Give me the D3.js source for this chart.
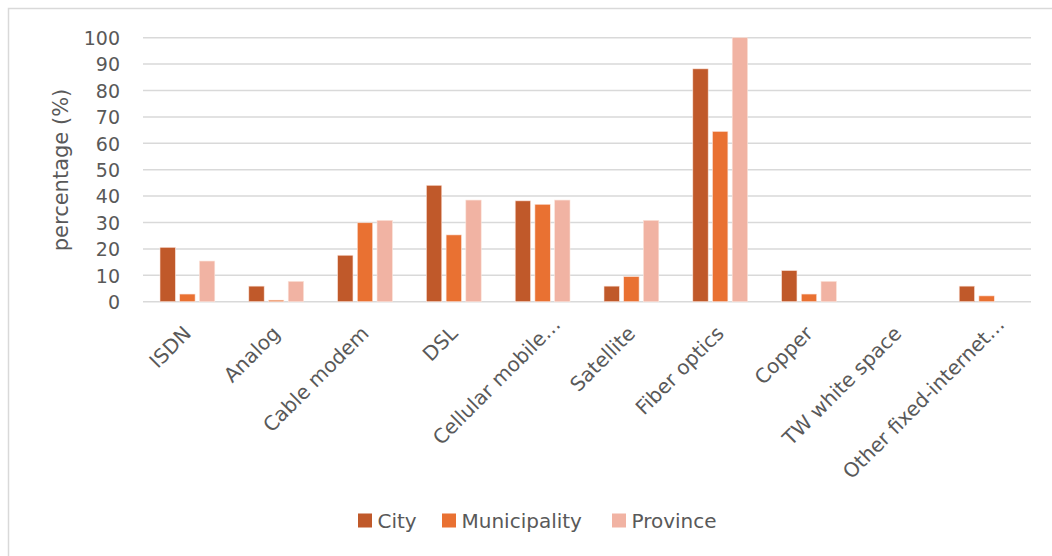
<!DOCTYPE html>
<html><head><meta charset="utf-8">
<script src="https://cdn.jsdelivr.net/npm/d3@7"></script>
<style>body{margin:0;background:#fff;} svg{display:block;}</style>
</head><body>
<svg id="c" width="1052" height="556"></svg>
<script>
const categories = ["ISDN","Analog","Cable modem","DSL","Cellular mobile…","Satellite","Fiber optics","Copper","TW white space","Other fixed-internet…"];
const seriesNames = ["City","Municipality","Province"];
const cityValues = [20.6, 5.9, 17.6, 44.1, 38.2, 5.9, 88.2, 11.8, 0, 5.9];
const municipalityValues = [2.9, 0.6, 29.9, 25.3, 36.9, 9.5, 64.5, 2.9, 0, 2.2];
const provinceValues = [15.4, 7.7, 30.8, 38.5, 38.5, 30.8, 100, 7.7, 0, 0];
const yTicks = [0,10,20,30,40,50,60,70,80,90,100];
const colors = ["#C0592A","#E97132","#F1B3A3"];

(function(){
const series = [cityValues, municipalityValues, provinceValues];
const svg = d3.select("#c");
const font = "'DejaVu Sans', sans-serif";
const pLeft = 143, pRight = 1031, pTop = 37.7, pBottom = 301.7;

svg.append("rect").attr("x",8.5).attr("y",8.5).attr("width",1100).attr("height",600)
  .attr("fill","none").attr("stroke","#d9d9d9").attr("stroke-width",1.5);

const x = d3.scaleBand().domain(categories).range([pLeft,pRight]).paddingInner(0).paddingOuter(0);
const x1 = d3.scaleBand().domain(seriesNames).range([17, x.bandwidth()-17]).paddingInner(0.22);
const y = d3.scaleLinear().domain([0,100]).range([pBottom, pTop]);

svg.append("g").selectAll("line").data(yTicks).join("line")
  .attr("x1",pLeft).attr("x2",pRight).attr("y1",d=>y(d)).attr("y2",d=>y(d))
  .attr("stroke","#d9d9d9").attr("stroke-width",1.5);

const yAxis = d3.axisLeft(y).tickValues(yTicks).tickSize(0).tickPadding(0);
const ga = svg.append("g").attr("transform",`translate(120,0)`).call(yAxis);
ga.select(".domain").remove();
ga.selectAll("text").attr("font-family",font).attr("font-size",19).attr("fill","#595959").attr("dy","0.36em");

svg.append("text").attr("transform",`translate(68,170) rotate(-90)`).attr("text-anchor","middle")
  .attr("font-family",font).attr("font-size",21).attr("fill","#595959").text("percentage (%)");

const groups = svg.append("g").selectAll("g").data(categories).join("g")
  .attr("transform",d=>`translate(${x(d)},0)`);
groups.selectAll("rect").data((d,i)=>seriesNames.map((s,j)=>({s, j, v: series[j][i]})))
  .join("rect")
  .attr("x",d=>x1(d.s)).attr("width",x1.bandwidth())
  .attr("y",d=>y(d.v)).attr("height",d=>y(0)-y(d.v))
  .attr("fill",d=>colors[d.j]).attr("stroke", d=> d.v>0 ? "#fbe3da" : "none").attr("stroke-width",0.6);

const xAxis = d3.axisBottom(x).tickSize(0).tickPadding(0);
const gx = svg.append("g").attr("transform",`translate(0,${pBottom})`).call(xAxis);
gx.select(".domain").remove();
gx.selectAll("text").attr("font-family",font).attr("font-size",20).attr("fill","#595959")
  .attr("text-anchor","end").attr("dy",0)
  .attr("transform",d => d.endsWith("…") ? "translate(19,24) rotate(-45)" : "translate(5,33) rotate(-45)");

const legend = svg.append("g");
const lx = [358, 442, 612];
seriesNames.forEach((s,i)=>{
  legend.append("rect").attr("x",lx[i]).attr("y",513.5).attr("width",14).attr("height",14).attr("fill",colors[i]);
  legend.append("text").attr("x",lx[i]+19.5).attr("y",527.5).attr("font-family",font).attr("font-size",20)
    .attr("fill","#595959").text(s);
});
})();
</script>
</body></html>
